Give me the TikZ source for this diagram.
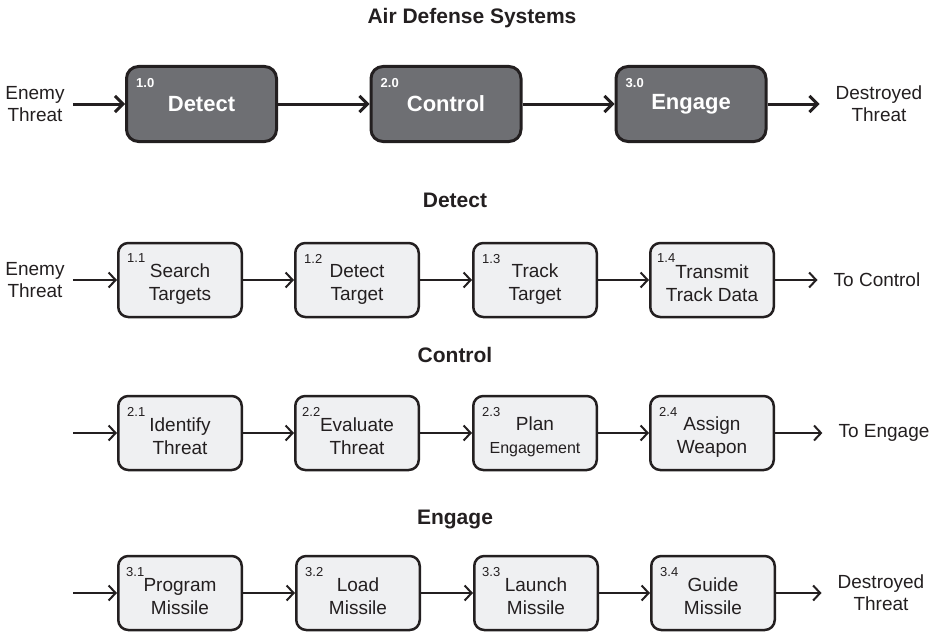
\documentclass[tikz,border=0pt]{standalone}
\usepackage{fontspec}
\setmainfont{Liberation Sans}
\usetikzlibrary{arrows.meta}
\definecolor{boxdark}{RGB}{110,111,115}
\definecolor{boxlight}{RGB}{239,240,242}
\definecolor{ink}{RGB}{35,31,32}
\newcommand{\toprule}{\rule{0pt}{21pt}}

\begin{document}
\begin{tikzpicture}[x=1pt,y=1pt,
  bigbox/.style={draw=ink, line width=3pt, fill=boxdark, rounded corners=12pt,
    minimum width=150pt, minimum height=75pt, text=white,
    font=\fontsize{22}{26}\selectfont\bfseries},
  smallbox/.style={draw=ink, line width=2.5pt, fill=boxlight, rounded corners=10pt,
    minimum width=123.5pt, minimum height=74pt, align=center, text=ink,
    font=\fontsize{19}{23}\selectfont},
  bignum/.style={anchor=north west, inner sep=0pt, text=white,
    font=\fontsize{13}{13}\selectfont\bfseries},
  smallnum/.style={anchor=north west, inner sep=0pt, text=ink,
    font=\fontsize{13}{13}\selectfont},
  heading/.style={text=ink, font=\fontsize{21}{21}\selectfont\bfseries},
  sidetext/.style={align=center, text=ink, inner ysep=0pt, inner xsep=16pt,
    font=\fontsize{19}{22}\selectfont},
  lefttext/.style={sidetext, inner xsep=8pt},
  bigflow/.style={-{Straight Barb[length=8pt,width=16pt]}, line width=3pt, draw=ink},
  flow/.style={-{Straight Barb[length=7pt,width=15pt]}, line width=2pt, draw=ink}]
\useasboundingbox (0,0) rectangle (940,-634);

% top level
\node [heading] (title) at (472,-18) {Air Defense Systems};
\node [lefttext] (enemy0) at (35,-104) {Enemy\\Threat};
\node [bigbox] (det) at (201.5,-104) {Detect};
\node [bigbox] (ctl) at (446,-104) {Control};
\node [bigbox] (eng) at (691,-104) {Engage};
\node [sidetext] (dest0) at (879,-104) {Destroyed\\Threat};
\node [bignum] (n10) at ([shift={(11,-13)}]det.north west) {1.0};
\node [bignum] (n20) at ([shift={(11,-13)}]ctl.north west) {2.0};
\node [bignum] (n30) at ([shift={(11,-13)}]eng.north west) {3.0};
\draw [bigflow] (enemy0) -- (det);
\draw [bigflow] (det) -- (ctl);
\draw [bigflow] (ctl) -- (eng);
\draw [bigflow] (eng) -- (dest0);

% detect
\node [heading] (hdet) at (455,-200) {Detect};
\node [lefttext] (enemy1) at (35,-280) {Enemy\\Threat};
\node [smallbox] (s11) at (180,-280) {\toprule Search\\Targets};
\node [smallbox] (s12) at (357,-280) {\toprule Detect\\Target};
\node [smallbox] (s13) at (535,-280) {\toprule Track\\Target};
\node [smallbox] (s14) at (712,-280) {\toprule Transmit\\Track Data};
\node [sidetext] (toctl) at (877,-280) {To Control};
\node [smallnum] (n11) at ([shift={(10,-12)}]s11.north west) {1.1};
\node [smallnum] (n12) at ([shift={(10,-12)}]s12.north west) {1.2};
\node [smallnum] (n13) at ([shift={(10,-12)}]s13.north west) {1.3};
\node [smallnum] (n14) at ([shift={(8,-12)}]s14.north west) {1.4};
\draw [flow] (enemy1) -- (s11);
\draw [flow] (s11) -- (s12);
\draw [flow] (s12) -- (s13);
\draw [flow] (s13) -- (s14);
\draw [flow] (s14) -- (toctl);

% control
\node [heading] (hctl) at (455,-355) {Control};
\coordinate (in2) at (73,-433);
\node [smallbox] (s21) at (180,-433) {\toprule Identify\\Threat};
\node [smallbox] (s22) at (357,-433) {\toprule Evaluate\\Threat};
\node [smallbox] (s23) at (535,-433) {\toprule Plan\\{\fontsize{16}{18}\selectfont Engagement}};
\node [smallbox] (s24) at (712,-433) {\toprule Assign\\Weapon};
\node [sidetext] (toeng) at (884,-433) {To Engage};
\node [smallnum] (n21) at ([shift={(10,-12)}]s21.north west) {2.1};
\node [smallnum] (n22) at ([shift={(8,-12)}]s22.north west) {2.2};
\node [smallnum] (n23) at ([shift={(10,-12)}]s23.north west) {2.3};
\node [smallnum] (n24) at ([shift={(10,-12)}]s24.north west) {2.4};
\draw [flow] (in2) -- (s21);
\draw [flow] (s21) -- (s22);
\draw [flow] (s22) -- (s23);
\draw [flow] (s23) -- (s24);
\draw [flow] (s24) -- (toeng);

% engage
\node [heading] (heng) at (455,-519) {Engage};
\coordinate (in3) at (73,-593);
\node [smallbox] (s31) at (180,-593) {\toprule Program\\Missile};
\node [smallbox] (s32) at (358,-593) {\toprule Load\\Missile};
\node [smallbox] (s33) at (536,-593) {\toprule Launch\\Missile};
\node [smallbox] (s34) at (713,-593) {\toprule Guide\\Missile};
\node [sidetext] (dest3) at (881,-593) {Destroyed\\Threat};
\node [smallnum] (n31) at ([shift={(9,-12)}]s31.north west) {3.1};
\node [smallnum] (n32) at ([shift={(10,-12)}]s32.north west) {3.2};
\node [smallnum] (n33) at ([shift={(9,-12)}]s33.north west) {3.3};
\node [smallnum] (n34) at ([shift={(10,-12)}]s34.north west) {3.4};
\draw [flow] (in3) -- (s31);
\draw [flow] (s31) -- (s32);
\draw [flow] (s32) -- (s33);
\draw [flow] (s33) -- (s34);
\draw [flow] (s34) -- (dest3);
\end{tikzpicture}
\end{document}
